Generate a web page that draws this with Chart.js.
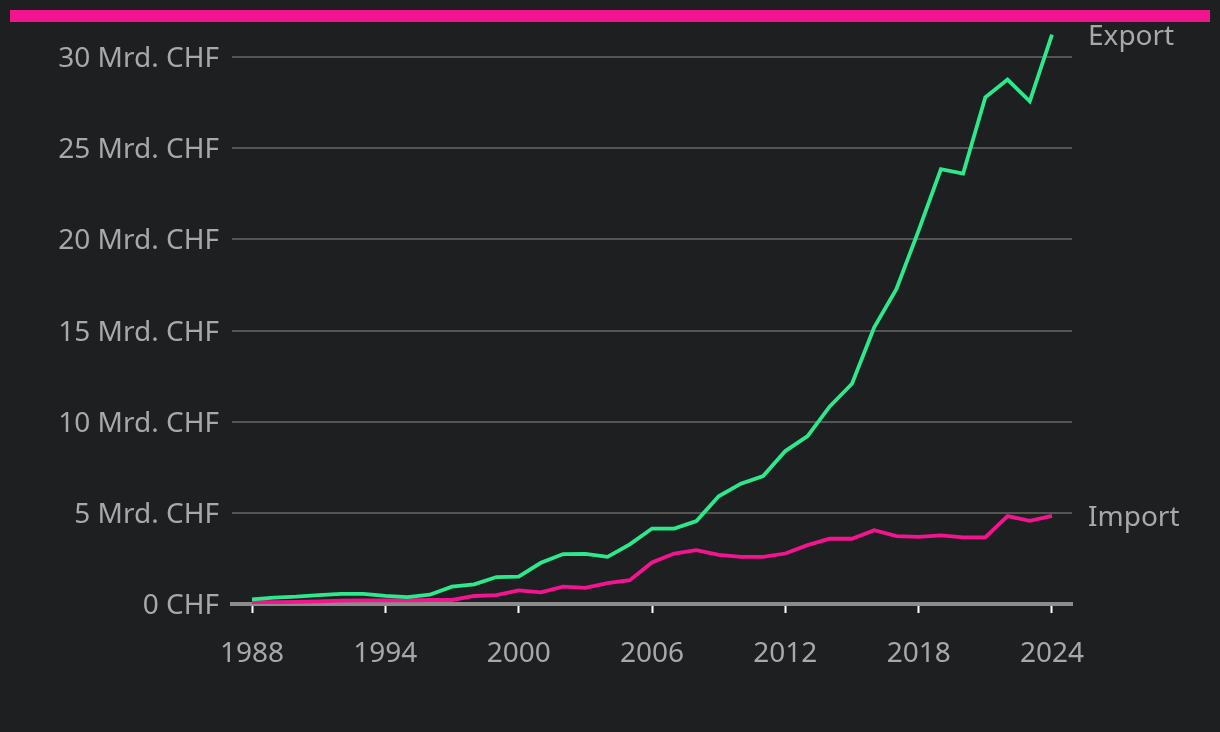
<!DOCTYPE html>
<html>
<head>
<meta charset="utf-8">
<script src="https://cdn.jsdelivr.net/npm/chart.js@4"></script>
<style>
  html, body { margin: 0; padding: 0; background: #1e1f21; }
  #wrap { position: relative; width: 1220px; height: 732px; }
  #bar { position: absolute; left: 10px; top: 10px; width: 1200px; height: 12px; background: #f5148f; }
  canvas { position: absolute; left: 0; top: 0; }
</style>
</head>
<body>
<div id="wrap">
  <canvas id="grafico" width="1220" height="732"></canvas>
  <div id="bar"></div>
</div>
<script>
const years = [1988, 1989, 1990, 1991, 1992, 1993, 1994, 1995, 1996, 1997, 1998, 1999,
    2000, 2001, 2002, 2003, 2004, 2005, 2006, 2007, 2008, 2009, 2010, 2011, 2012,
    2013, 2014, 2015, 2016, 2017, 2018, 2019, 2020, 2021, 2022, 2023, 2024];
const exportVals = [0.25, 0.35, 0.4, 0.49, 0.55, 0.55, 0.45, 0.38, 0.51, 0.95, 1.08, 1.48,
    1.5, 2.26, 2.74, 2.75, 2.59, 3.27, 4.14, 4.14, 4.55, 5.91, 6.6, 7.02, 8.39,
    9.21, 10.84, 12.08, 15.18, 17.28, 20.5, 23.85, 23.61, 27.8, 28.77, 27.58, 31.23];
const importVals = [0.1, 0.1, 0.12, 0.14, 0.18, 0.2, 0.2, 0.2, 0.22, 0.22, 0.44, 0.49,
    0.75, 0.64, 0.95, 0.89, 1.15, 1.31, 2.28, 2.77, 2.95, 2.7, 2.59, 2.59, 2.77,
    3.23, 3.58, 3.58, 4.05, 3.72, 3.68, 3.76, 3.65, 3.65, 4.82, 4.56, 4.83];
const xTicks = [1988, 1994, 2000, 2006, 2012, 2018, 2024];
const yTicks = [0, 5, 10, 15, 20, 25, 30];
const seriesNames = ['Export', 'Import'];

const FONT = '"Noto Sans", sans-serif';
const TEXT = '#a8a8a8';

// Beschriftung am Linienende
const endLabels = {
    id: 'endLabels',
    afterDatasetsDraw(chart) {
        const ctx = chart.ctx;
        ctx.save();
        ctx.font = '28px ' + FONT;
        ctx.fillStyle = TEXT;
        ctx.textBaseline = 'middle';
        ctx.textAlign = 'left';
        chart.data.datasets.forEach((ds, i) => {
            const pts = chart.getDatasetMeta(i).data;
            const last = pts[pts.length - 1];
            ctx.fillText(ds.label, chart.chartArea.right + 16, last.y + 2);
        });
        ctx.restore();
    },
};

const ctx = document.getElementById('grafico').getContext('2d');

new Chart(ctx, {
    type: 'line',
    data: {
        datasets: [
            {
                label: seriesNames[0],
                data: years.map((y, i) => ({ x: y, y: exportVals[i] })),
                borderColor: '#2cea8c',
                borderWidth: 3.8,
                pointRadius: 0,
                tension: 0,
            },
            {
                label: seriesNames[1],
                data: years.map((y, i) => ({ x: y, y: importVals[i] })),
                borderColor: '#f5148f',
                borderWidth: 3.8,
                pointRadius: 0,
                tension: 0,
            },
        ],
    },
    options: {
        responsive: false,
        animation: false,
        layout: { padding: { top: 29, right: 148, bottom: 0, left: 0 } },
        plugins: {
            legend: { display: false },
            tooltip: { enabled: false },
        },
        scales: {
            x: {
                type: 'linear',
                min: 1987.1,
                max: 2024.9,
                afterBuildTicks: s => { s.ticks = xTicks.map(v => ({ value: v })); },
                afterFit: s => { s.height = 128; },
                grid: {
                    drawOnChartArea: false,
                    drawTicks: true,
                    tickLength: 9,
                    tickColor: '#ffffff',
                    tickWidth: 2,
                },
                border: { display: true, color: '#8c8c8c', width: 4 },
                ticks: {
                    color: TEXT,
                    font: { family: FONT, size: 28 },
                    padding: 24,
                    maxRotation: 0,
                    callback: v => String(v),
                },
            },
            y: {
                min: 0,
                max: 31.5,
                afterBuildTicks: s => { s.ticks = yTicks.map(v => ({ value: v })); },
                afterFit: s => { s.width = 232; },
                grid: {
                    drawTicks: false,
                    color: c => (c.tick && c.tick.value === 0 ? 'rgba(0,0,0,0)' : '#555555'),
                    lineWidth: 2,
                },
                border: { display: false },
                ticks: {
                    color: TEXT,
                    font: { family: FONT, size: 28 },
                    padding: 13,
                    labelOffset: 2,
                    callback: v => (v === 0 ? '0 CHF' : v + ' Mrd. CHF'),
                },
            },
        },
    },
    plugins: [endLabels],
});
</script>
</body>
</html>
